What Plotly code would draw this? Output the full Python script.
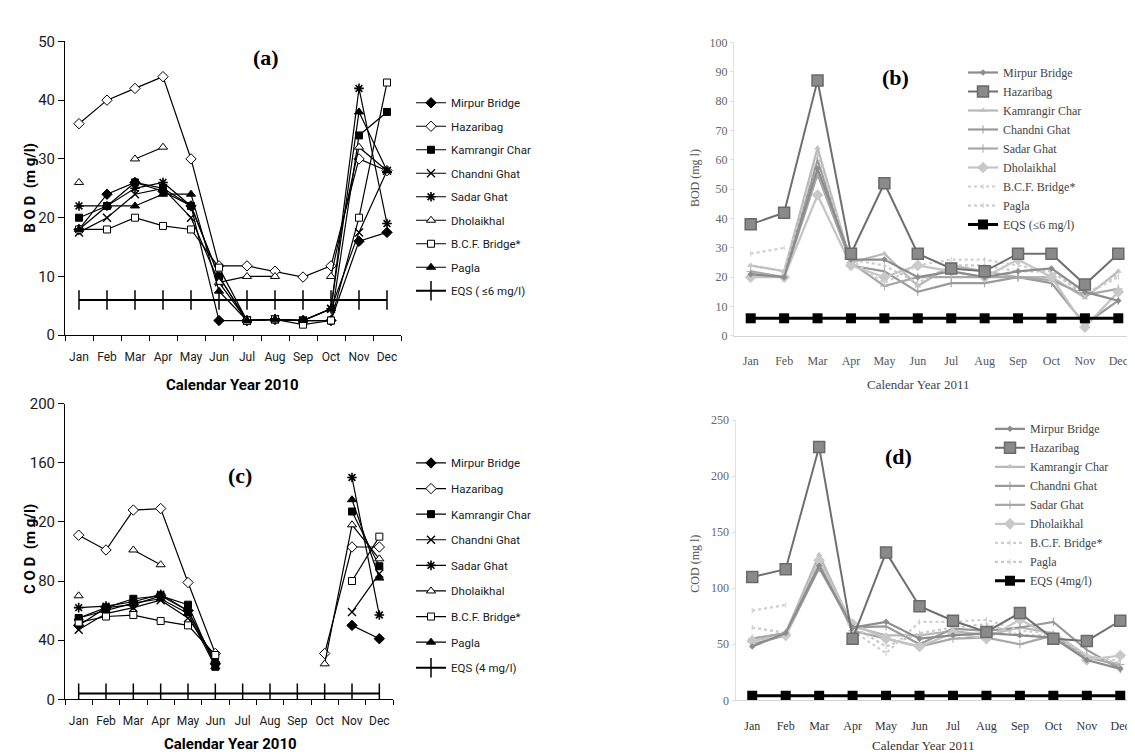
import plotly.graph_objects as go

W, H = 1135, 755

months = ["Jan", "Feb", "Mar", "Apr", "May", "Jun", "Jul", "Aug", "Sep", "Oct", "Nov", "Dec"]
stations = ["Mirpur Bridge", "Hazaribag", "Kamrangir Char", "Chandni Ghat", "Sadar Ghat",
            "Dholaikhal", "B.C.F. Bridge*", "Pagla"]

# ---- (a) BOD 2010 ----
bod10_mirpur = [18, 24, 26, 24.5, 22, 2.5, 2.5, 2.7, 2.5, 2.5, 16, 17.5]
bod10_hazaribag = [36, 40, 42, 44, 30, 11.8, 11.8, 10.9, 9.9, 11.8, 30, 28]
bod10_kamrangir = [20, 22, 26, 25, 22, 10, 2.5, 2.7, 2.5, 2.5, 34, 38]
bod10_chandni = [17.5, 20, 24, 25, 20, 9, 2.5, 2.7, 2.5, 4.5, 17.5, 28]
bod10_sadar = [22, 22, 25, 26, 22, 10, 2.5, 2.7, 2.5, 4.5, 42, 19]
bod10_dholaikhal = [26, None, 30, 32, None, 9, 10, 10, None, 10, 32, 28]
bod10_bcf = [18, 18, 20, 18.6, 18, 11.5, 2.5, 2.7, 1.8, 2.5, 20, 43]
bod10_pagla = [18, 22, 22, 24, 24, 7.5, 2.5, 2.7, 2.5, 4.5, 38, 28]
bod10_eqs = [6, 6, 6, 6, 6, 6, 6, 6, 6, 6, 6, 6]

# ---- (c) COD 2010 ----
cod10_mirpur = [50, 62, 64, 70, 60, 24, None, None, None, None, 50, 41]
cod10_hazaribag = [111, 101, 128, 129, 79, 31, None, None, None, 31, 103, 103]
cod10_kamrangir = [55, 62, 68, 70, 64, 22, None, None, None, None, 127, 90]
cod10_chandni = [47, 58, 62, 67, 55, 28, None, None, None, None, 59, 85]
cod10_sadar = [62, 63, 66, 71, 60, 25, None, None, None, None, 150, 57]
cod10_dholaikhal = [70, None, 101, 91, None, None, None, None, None, 24, 118, 95]
cod10_bcf = [52, 56, 57, 53, 50, 30, None, None, None, None, 80, 110]
cod10_pagla = [55, 60, 65, 68, 58, 22, None, None, None, None, 135, 82]
cod10_eqs = [4, 4, 4, 4, 4, 4, 4, 4, 4, 4, 4, 4]

# ---- (b) BOD 2011 ----
bod11_mirpur = [21, 20, 57, 26, 26, 20, 22, 20, 22, 23, 15, 12]
bod11_hazaribag = [38, 42, 87, 28, 52, 28, 23, 22, 28, 28, 17.5, 28]
bod11_kamrangir = [24, 22, 64, 25, 28, 17, 24, 22, 20, 20, 13, 22]
bod11_chandni = [21, 20, 60, 24, 22, 15, 18, 18, 20, 18, 4, 12]
bod11_sadar = [22, 20, 55, 25, 17, 20, 20, 20, 20, 19, 14, 16]
bod11_dholaikhal = [20, 20, 48, 24, 20, 24, 22, 20, 26, 20, 3, 15]
bod11_bcf = [28, 30, None, 26, 18, 24, 26, 26, 24, 22, 14, 20]
bod11_pagla = [24, 22, 62, 26, 24, 18, 24, 24, 22, 22, 14, 21]
bod11_eqs = [6, 6, 6, 6, 6, 6, 6, 6, 6, 6, 6, 6]

# ---- (d) COD 2011 ----
cod11_mirpur = [48, 60, 120, 65, 70, 55, 58, 60, 58, 56, 36, 28]
cod11_hazaribag = [110, 117, 226, 55, 132, 84, 71, 61, 78, 55, 53, 71]
cod11_kamrangir = [55, 60, 130, 66, 58, 58, 62, 58, 65, 60, 40, 30]
cod11_chandni = [50, 58, 118, 65, 66, 50, 64, 62, 65, 70, 45, 28]
cod11_sadar = [55, 60, 122, 62, 55, 48, 55, 56, 50, 58, 38, 32]
cod11_dholaikhal = [53, 58, 125, 68, 55, 48, 60, 55, 72, 56, 36, 40]
cod11_bcf = [80, 85, None, 62, 42, 70, 70, 72, 62, 60, 40, 35]
cod11_pagla = [65, 60, 122, 66, 48, 60, 65, 68, 58, 58, 40, 33]
cod11_eqs = [4, 4, 4, 4, 4, 4, 4, 4, 4, 4, 4, 4]

eqs_a_name = "EQS ( \u22646 mg/l)"
eqs_c_name = "EQS (4 mg/l)"
eqs_b_name = "EQS (\u22646 mg/l)"
eqs_d_name = "EQS (4mg/l)"

fig = go.Figure()

SANS = "Roboto, Liberation Sans, Arial, sans-serif"
SERIF = "Liberation Serif, Times New Roman, DejaVu Serif, serif"

left_styles = [
    dict(symbol="diamond", color="black", line=dict(color="black", width=1), size=8),
    dict(symbol="diamond", color="white", line=dict(color="black", width=1), size=8),
    dict(symbol="square", color="black", line=dict(color="black", width=1), size=7),
    dict(symbol="x-thin", color="black", line=dict(color="black", width=1.4), size=8),
    dict(symbol="asterisk", color="black", line=dict(color="black", width=1.6), size=8),
    dict(symbol="triangle-up", color="white", line=dict(color="black", width=1), size=8),
    dict(symbol="square", color="white", line=dict(color="black", width=1), size=7),
    dict(symbol="triangle-up", color="black", line=dict(color="black", width=1), size=8),
]

right_lines = ["#8c8c8c", "#6f6f6f", "#b8b8b8", "#9a9a9a", "#a8a8a8", "#c4c4c4", "#cfcfcf", "#c8c8c8"]
right_dash = ["solid", "solid", "solid", "solid", "solid", "solid", "dot", "dot"]
right_markers = [
    dict(symbol="diamond", color="#8c8c8c", size=5),
    dict(symbol="square", color="#8a8a8a", size=11, line=dict(color="#6a6a6a", width=1.5)),
    dict(symbol="triangle-up", color="#c0c0c0", size=6),
    dict(symbol="line-ns", color="#9a9a9a", size=6, line=dict(color="#9a9a9a", width=1)),
    dict(symbol="cross-thin", color="#a8a8a8", size=6, line=dict(color="#a8a8a8", width=1)),
    dict(symbol="diamond", color="#c8c8c8", size=9),
    dict(symbol="line-ns", color="#d0d0d0", size=4, line=dict(color="#d0d0d0", width=1)),
    dict(symbol="line-ns", color="#cccccc", size=4, line=dict(color="#cccccc", width=1)),
]

def add_left(series, eqs, eqs_name, xa, ya, leg):
    for i, (name, vals) in enumerate(zip(stations, series)):
        fig.add_trace(go.Scatter(
            x=months, y=vals, name=name, mode="lines+markers",
            line=dict(color="black", width=1.2), marker=left_styles[i],
            connectgaps=False, xaxis=xa, yaxis=ya, legend=leg,
            legendgroup=leg + str(i)))
    fig.add_trace(go.Scatter(
        x=months, y=eqs, name=eqs_name, mode="lines+markers",
        line=dict(color="black", width=2),
        marker=dict(symbol="line-ns", size=14, color="black", line=dict(color="black", width=1.5)),
        xaxis=xa, yaxis=ya, legend=leg, legendgroup=leg + "eqs"))

def add_right(series, eqs, eqs_name, xa, ya, leg):
    order = [2, 3, 4, 5, 6, 7, 0, 1]
    traces = {}
    for i, (name, vals) in enumerate(zip(stations, series)):
        traces[i] = go.Scatter(
            x=months, y=vals, name=name, mode="lines+markers",
            line=dict(color=right_lines[i], width=2.2 if i != 1 else 2, dash=right_dash[i]),
            marker=right_markers[i], connectgaps=False,
            xaxis=xa, yaxis=ya, legend=leg, legendrank=i + 1)
    for i in order:
        fig.add_trace(traces[i])
    fig.add_trace(go.Scatter(
        x=months, y=eqs, name=eqs_name, mode="lines+markers",
        line=dict(color="black", width=3),
        marker=dict(symbol="square", size=10, color="black"),
        xaxis=xa, yaxis=ya, legend=leg, legendrank=9))

add_left([bod10_mirpur, bod10_hazaribag, bod10_kamrangir, bod10_chandni, bod10_sadar,
          bod10_dholaikhal, bod10_bcf, bod10_pagla], bod10_eqs, eqs_a_name, "x", "y", "legend")
add_right([bod11_mirpur, bod11_hazaribag, bod11_kamrangir, bod11_chandni, bod11_sadar,
           bod11_dholaikhal, bod11_bcf, bod11_pagla], bod11_eqs, eqs_b_name, "x2", "y2", "legend2")
add_left([cod10_mirpur, cod10_hazaribag, cod10_kamrangir, cod10_chandni, cod10_sadar,
          cod10_dholaikhal, cod10_bcf, cod10_pagla], cod10_eqs, eqs_c_name, "x3", "y3", "legend3")
add_right([cod11_mirpur, cod11_hazaribag, cod11_kamrangir, cod11_chandni, cod11_sadar,
           cod11_dholaikhal, cod11_bcf, cod11_pagla], cod11_eqs, eqs_d_name, "x4", "y4", "legend4")

def fx(px):
    return px / W

def fy(py):
    return 1 - py / H

left_x = dict(type="category", categoryorder="array", categoryarray=months,
              range=[-0.5, 11.5], showline=True, linecolor="black", linewidth=1,
              ticks="outside", ticklen=5, tickcolor="black", tickson="boundaries",
              showgrid=False, zeroline=False, ticklabelstandoff=10, tickangle=0,
              tickfont=dict(family=SANS, size=12, color="#1a1a1a"))
left_y = dict(showline=True, linecolor="black", linewidth=1, ticks="outside", ticklen=6,
              tickcolor="black", showgrid=False, zeroline=False,
              tickfont=dict(family=SANS, size=15, color="#1a1a1a"))
right_x = dict(type="category", categoryorder="array", categoryarray=months,
               showline=True, linecolor="#d4d4d4", linewidth=1, ticks="",
               showgrid=False, zeroline=False, ticklabelstandoff=14, tickangle=0,
               tickfont=dict(family=SERIF, size=12, color="#555"))
right_y = dict(showline=True, linecolor="#e0e0e0", linewidth=1, ticks="outside", ticklen=3,
               tickcolor="#dddddd", showgrid=False, zeroline=False,
               tickfont=dict(family=SERIF, size=12, color="#666"))

fig.update_layout(
    width=W, height=H, margin=dict(l=0, r=0, t=0, b=0),
    paper_bgcolor="white", plot_bgcolor="rgba(0,0,0,0)",
    xaxis=dict(left_x, domain=[fx(57), fx(393)], anchor="y"),
    yaxis=dict(left_y, domain=[fy(326), fy(25)], range=[0, 50], dtick=10, anchor="x"),
    xaxis3=dict(left_x, domain=[fx(57), fx(385)], anchor="y3"),
    yaxis3=dict(left_y, domain=[fy(699), fy(396)], range=[0, 200], dtick=40, anchor="x3"),
    xaxis2=dict(right_x, domain=[fx(726), fx(1127)], range=[-0.5, 11.5], anchor="y2"),
    yaxis2=dict(right_y, domain=[fy(326.7), fy(26)], range=[0, 100], dtick=10, anchor="x2"),
    xaxis4=dict(right_x, domain=[fx(727.5), fx(1129)], range=[-0.5, 11.5], anchor="y4",
                tickfont=dict(family=SERIF, size=12, color="#333")),
    yaxis4=dict(right_y, domain=[fy(700), fy(413)], range=[0, 250], dtick=50, anchor="x4"),
    legend=dict(x=fx(403), y=fy(73), xanchor="left", yanchor="top", traceorder="grouped",
                tracegroupgap=4.5, bgcolor="rgba(0,0,0,0)",
                font=dict(family=SANS, size=11.5, color="#1a1a1a")),
    legend3=dict(x=fx(403), y=fy(442), xanchor="left", yanchor="top", traceorder="grouped",
                 tracegroupgap=6.6, bgcolor="rgba(0,0,0,0)",
                 font=dict(family=SANS, size=11.5, color="#1a1a1a")),
    legend2=dict(x=fx(955), y=fy(42), xanchor="left", yanchor="top", traceorder="normal",
                 bgcolor="rgba(0,0,0,0)", font=dict(family=SERIF, size=12, color="#444")),
    legend4=dict(x=fx(982), y=fy(407), xanchor="left", yanchor="top", traceorder="normal",
                 bgcolor="rgba(0,0,0,0)", font=dict(family=SERIF, size=12, color="#444")),
)

ann = []
def label(text, x, y, size, family, color="black", bold=False, angle=0):
    ann.append(dict(text=("<b>%s</b>" % text) if bold else text, x=fx(x), y=fy(y),
                    xref="paper", yref="paper", showarrow=False, textangle=angle,
                    xanchor="center", yanchor="middle",
                    font=dict(family=family, size=size, color=color)))

label("(a)", 258, 42, 22, SERIF, bold=True)
label("(b)", 887, 62, 22, SERIF, bold=True)
label("(c)", 232, 470, 22, SERIF, bold=True)
label("(d)", 890, 450, 22, SERIF, bold=True)
label("Calendar Year 2010", 225, 377, 15, SANS, bold=True)
label("Calendar Year 2010", 222, 745, 15, SANS, bold=True)
label("Calendar Year 2011", 910, 376, 13, SERIF, color="#444")
label("Calendar Year 2011", 915, 746, 13, SERIF, color="#333")
label("B O D  (m g/l)", 22, 175, 15, SANS, bold=True, angle=-90)
label("C O D  (m g/l)", 22, 545, 15, SANS, bold=True, angle=-90)
label("BOD (mg l)", 687, 165, 12, SERIF, color="#555", angle=-90)
label("COD (mg l)", 687, 560, 12, SERIF, color="#555", angle=-90)
fig.update_layout(annotations=ann)

fig.write_html("out.html")
